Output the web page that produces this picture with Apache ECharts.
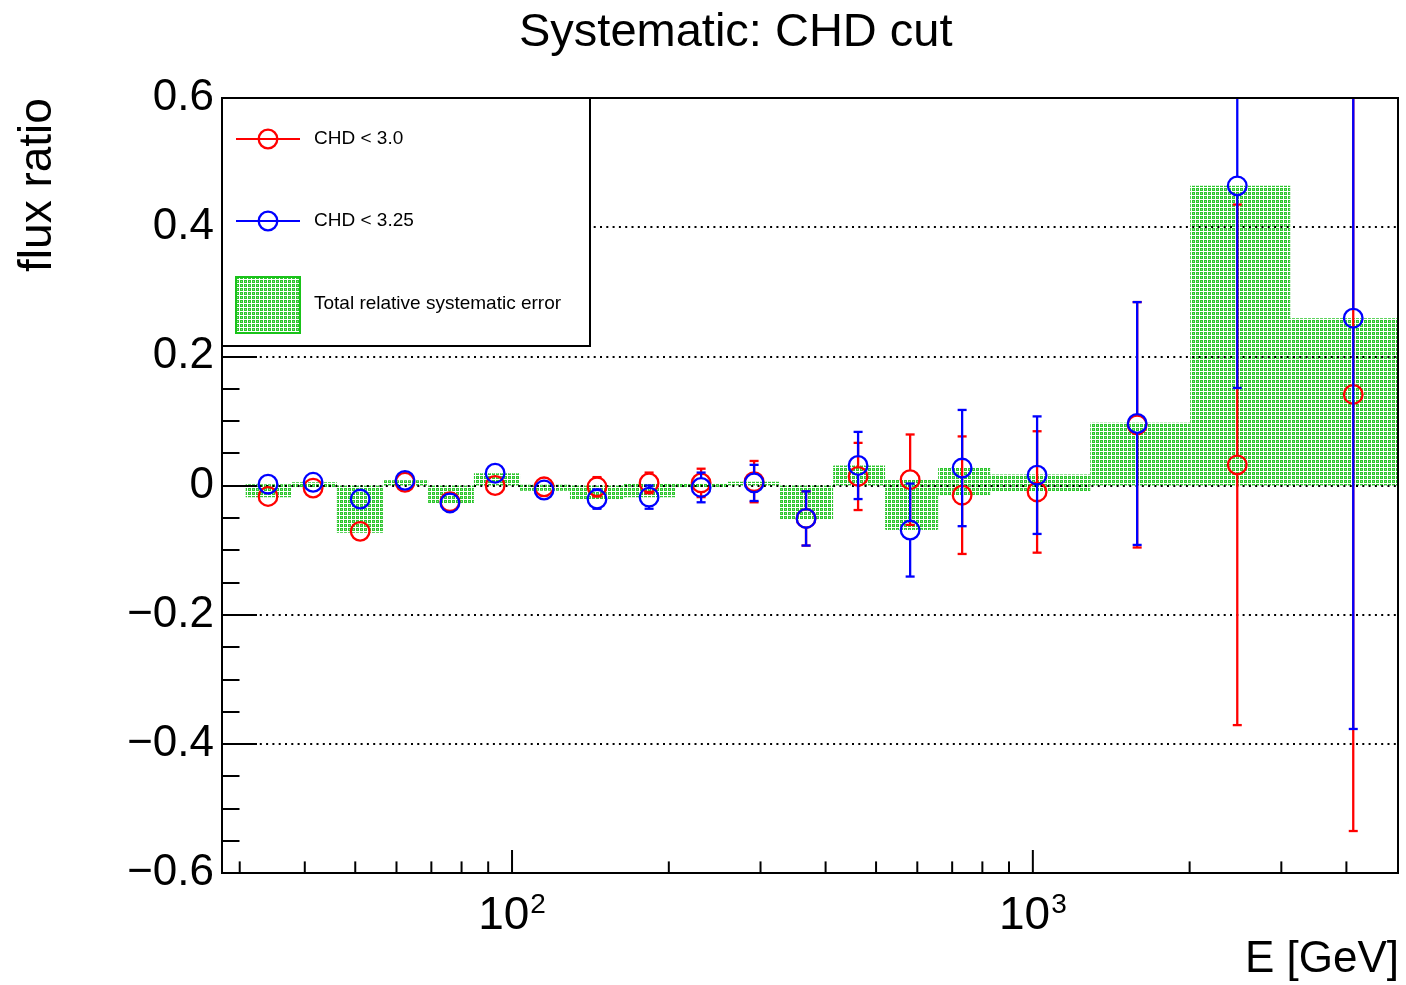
<!DOCTYPE html>
<html>
<head>
<meta charset="utf-8">
<script src="https://cdn.jsdelivr.net/npm/echarts@6/dist/echarts.min.js"></script>
<style>
html,body{margin:0;padding:0;background:#fff;}
#chart{width:1406px;height:985px;}
</style>
</head>
<body>
<div id="chart"></div>
<script>
// ---- data ----
const binEdges = [30.8, 37.8, 46.1, 56.5, 69.0, 84.5, 103.6, 129.2, 163.4, 205.6, 259.8, 327.1, 413.5, 520.3, 657.9, 827.9, 1289, 2005, 3120, 5025];
const sysLow  = [-0.018, -0.004, -0.073, 0.000, -0.028, 0.000, -0.008, -0.021, -0.018, -0.003, 0.000, -0.052, 0.000, -0.069, -0.015, -0.010, 0.000, 0.000, 0.000];
const sysHigh = [0.002, 0.005, 0.000, 0.008, 0.000, 0.019, 0.001, 0.000, 0.004, 0.004, 0.006, 0.000, 0.031, 0.009, 0.027, 0.017, 0.097, 0.464, 0.259];
const energies = [34.0, 41.5, 51.1, 62.3, 76.0, 92.8, 115.2, 145.6, 183.3, 230.7, 291.6, 366.9, 461.8, 581.3, 731.5, 1019, 1586, 2469, 4123];
const redValues = [-0.017, -0.004, -0.071, 0.005, -0.025, 0.000, -0.002, -0.002, 0.004, 0.004, 0.006, -0.051, 0.014, 0.009, -0.015, -0.010, 0.094, 0.032, 0.141];
const redErrors = [0.008, 0.008, 0.009, 0.008, 0.009, 0.010, 0.011, 0.015, 0.016, 0.022, 0.032, 0.042, 0.052, 0.070, 0.091, 0.094, 0.190, 0.403, 0.676];
const blueValues = [0.002, 0.005, -0.021, 0.008, -0.027, 0.019, -0.007, -0.021, -0.018, -0.003, 0.004, -0.051, 0.031, -0.069, 0.027, 0.016, 0.096, 0.464, 0.259];
const blueErrors = [0.008, 0.008, 0.009, 0.008, 0.009, 0.010, 0.011, 0.015, 0.018, 0.023, 0.028, 0.042, 0.052, 0.072, 0.090, 0.091, 0.188, 0.313, 0.636];
const xTickValues = [30, 40, 50, 60, 70, 80, 90, 100, 200, 300, 400, 500, 600, 700, 800, 900, 1000, 2000, 3000, 4000];
const xLabelValues = [100, 1000];
const yMin = -0.6, yMax = 0.6, yStep = 0.2;
const xMin = 27.74, xMax = 5025;
const seriesNames = ['CHD < 3.0', 'CHD < 3.25', 'Total relative systematic error'];
const titleText = 'Systematic: CHD cut';
const xTitle = 'E [GeV]';
const yTitle = 'flux ratio';

// ---- styles ----
const FONT = '"Liberation Sans", Arial, Helvetica, sans-serif';
const RED = '#ff0000', BLUE = '#0000ff';
const MARKER_R = 9.3, LW = 2.3, CAP = 4.5;

function makePattern() {
  const c = document.createElement('canvas');
  c.width = 4; c.height = 4;
  const g = c.getContext('2d');
  g.fillStyle = '#ffffff';
  g.fillRect(0, 0, 4, 4);
  g.fillStyle = '#2cc62c';
  g.fillRect(0, 0, 3, 3);
  g.fillStyle = '#8fe08f';
  g.fillRect(1, 1, 1, 1);
  return c;
}
const patternCanvas = makePattern();
const greenFill = { image: patternCanvas, repeat: 'repeat' };

const boxData = binEdges.slice(0, -1).map((lo, i) => [lo, binEdges[i + 1], sysLow[i], sysHigh[i]]);
const redData = energies.map((e, i) => [e, redValues[i], redErrors[i]]);
const blueData = energies.map((e, i) => [e, blueValues[i], blueErrors[i]]);
const xTickData = xTickValues.map(v => [v]);

function pointRenderer(color) {
  return function (params, api) {
    const x = api.value(0), v = api.value(1), e = api.value(2);
    const c = api.coord([x, v]);
    const topVal = Math.min(v + e, yMax);
    const botVal = Math.max(v - e, yMin);
    const yTop = api.coord([x, topVal])[1];
    const yBot = api.coord([x, botVal])[1];
    const st = { stroke: color, lineWidth: LW, fill: null };
    const ch = [];
    if (c[1] - MARKER_R > yTop) {
      ch.push({ type: 'line', shape: { x1: c[0], y1: c[1] - MARKER_R, x2: c[0], y2: yTop }, style: st });
      if (v + e <= yMax) ch.push({ type: 'line', shape: { x1: c[0] - CAP, y1: yTop, x2: c[0] + CAP, y2: yTop }, style: st });
    }
    if (yBot > c[1] + MARKER_R) {
      ch.push({ type: 'line', shape: { x1: c[0], y1: c[1] + MARKER_R, x2: c[0], y2: yBot }, style: st });
      if (v - e >= yMin) ch.push({ type: 'line', shape: { x1: c[0] - CAP, y1: yBot, x2: c[0] + CAP, y2: yBot }, style: st });
    }
    ch.push({ type: 'circle', shape: { cx: c[0], cy: c[1], r: MARKER_R }, style: { stroke: color, lineWidth: LW, fill: null } });
    return { type: 'group', children: ch };
  };
}

const chart = echarts.init(document.getElementById('chart'), null, { renderer: 'canvas' });

const LZ = 100;
const option = {
  animation: false,
  backgroundColor: '#ffffff',
  textStyle: { fontFamily: FONT },
  title: {
    text: titleText,
    left: 514, top: 5,
    textStyle: { fontFamily: FONT, fontSize: 47, fontWeight: 'normal', color: '#000' }
  },
  grid: {
    left: 222, right: 8, top: 98, bottom: 112,
    show: true, z: 5,
    backgroundColor: 'transparent',
    borderColor: '#000', borderWidth: 2
  },
  xAxis: {
    type: 'log', logBase: 10,
    min: xMin, max: xMax,
    axisLine: { show: true, onZero: false, lineStyle: { color: '#000', width: 2 } },
    axisTick: { show: false },
    splitLine: { show: false },
    minorTick: { show: false },
    axisLabel: {
      margin: 18,
      color: '#000',
      showMinLabel: false, showMaxLabel: false,
      formatter: function (v) {
        for (const t of xLabelValues) {
          if (Math.abs(v - t) / t < 1e-6) return '{b|10}{s|' + Math.round(Math.log10(t)) + '}';
        }
        return '';
      },
      rich: {
        b: { fontFamily: FONT, fontSize: 46, color: '#000', lineHeight: 48, verticalAlign: 'bottom' },
        s: { fontFamily: FONT, fontSize: 28, color: '#000', lineHeight: 48, verticalAlign: 'top', padding: [0, 0, 0, 1] }
      }
    }
  },
  yAxis: {
    type: 'value',
    min: yMin, max: yMax, interval: yStep,
    z: 1.5,
    axisLine: { show: true, lineStyle: { color: '#000', width: 2 } },
    axisTick: { show: true, inside: true, length: 35, lineStyle: { color: '#000', width: 2 } },
    minorTick: { show: true, splitNumber: 4, length: 17.5, lineStyle: { color: '#000', width: 2 } },
    splitLine: { show: true, lineStyle: { color: '#000', width: 2, type: [2, 4.3] } },
    axisLabel: {
      margin: 8,
      color: '#000',
      fontFamily: FONT,
      fontSize: 44,
      padding: [5, 0, 0, 0],
      formatter: function (v) {
        const r = Math.round(v * 10) / 10;
        if (Math.abs(r) < 1e-9) return '0';
        return (r < 0 ? '\u2212' : '') + Math.abs(r).toFixed(1);
      }
    }
  },
  series: [
    {
      name: seriesNames[2],
      type: 'custom',
      z: 1,
      data: boxData,
      encode: { x: [0, 1], y: [2, 3] },
      renderItem: function (params, api) {
        const p1 = api.coord([api.value(0), api.value(3)]);
        const p2 = api.coord([api.value(1), api.value(2)]);
        return {
          type: 'rect',
          shape: { x: p1[0], y: p1[1], width: p2[0] - p1[0], height: Math.max(p2[1] - p1[1], 0) },
          style: { fill: greenFill, stroke: null }
        };
      }
    },
    {
      name: seriesNames[0],
      type: 'custom',
      z: 3,
      data: redData,
      encode: { x: 0, y: 1 },
      renderItem: pointRenderer(RED)
    },
    {
      name: seriesNames[1],
      type: 'custom',
      z: 4,
      data: blueData,
      encode: { x: 0, y: 1 },
      renderItem: pointRenderer(BLUE)
    },
    {
      name: 'x ticks',
      type: 'custom',
      z: 6,
      silent: true,
      clip: false,
      data: xTickData,
      encode: { x: 0 },
      renderItem: function (params, api) {
        const v = api.value(0);
        const p = api.coord([v, yMin]);
        const major = xLabelValues.some(t => Math.abs(v - t) / t < 1e-6);
        const len = major ? 23 : 11.6;
        return {
          type: 'line',
          shape: { x1: p[0], y1: p[1], x2: p[0], y2: p[1] - len },
          style: { stroke: '#000', lineWidth: 2 }
        };
      }
    }
  ],
  graphic: [
    {
      type: 'text', x: 38, y: 185, rotation: Math.PI / 2, z: LZ,
      style: { text: yTitle, font: '46px ' + FONT, fill: '#000', align: 'center', verticalAlign: 'middle' }
    },
    {
      type: 'text', x: 1399, y: 960, z: LZ,
      style: { text: xTitle, font: '44px ' + FONT, fill: '#000', align: 'right', verticalAlign: 'middle' }
    },
    { type: 'rect', z: LZ, shape: { x: 222, y: 98, width: 368, height: 248 }, style: { fill: '#fff', stroke: '#000', lineWidth: 2 } },
    { type: 'line', z: LZ + 1, shape: { x1: 236, y1: 139, x2: 300, y2: 139 }, style: { stroke: RED, lineWidth: 2 } },
    { type: 'circle', z: LZ + 1, shape: { cx: 268, cy: 139, r: MARKER_R }, style: { stroke: RED, lineWidth: LW, fill: null } },
    { type: 'text', z: LZ + 1, x: 314, y: 139, style: { text: seriesNames[0], font: '19px ' + FONT, fill: '#000', align: 'left', verticalAlign: 'middle' } },
    { type: 'line', z: LZ + 1, shape: { x1: 236, y1: 221, x2: 300, y2: 221 }, style: { stroke: BLUE, lineWidth: 2 } },
    { type: 'circle', z: LZ + 1, shape: { cx: 268, cy: 221, r: MARKER_R }, style: { stroke: BLUE, lineWidth: LW, fill: null } },
    { type: 'text', z: LZ + 1, x: 314, y: 221, style: { text: seriesNames[1], font: '19px ' + FONT, fill: '#000', align: 'left', verticalAlign: 'middle' } },
    { type: 'rect', z: LZ + 1, shape: { x: 236, y: 277, width: 64, height: 56 }, style: { fill: greenFill, stroke: '#19c319', lineWidth: 2 } },
    { type: 'text', z: LZ + 1, x: 314, y: 304, style: { text: seriesNames[2], font: '19px ' + FONT, fill: '#000', align: 'left', verticalAlign: 'middle' } }
  ]
};
chart.setOption(option);
</script>
</body>
</html>
